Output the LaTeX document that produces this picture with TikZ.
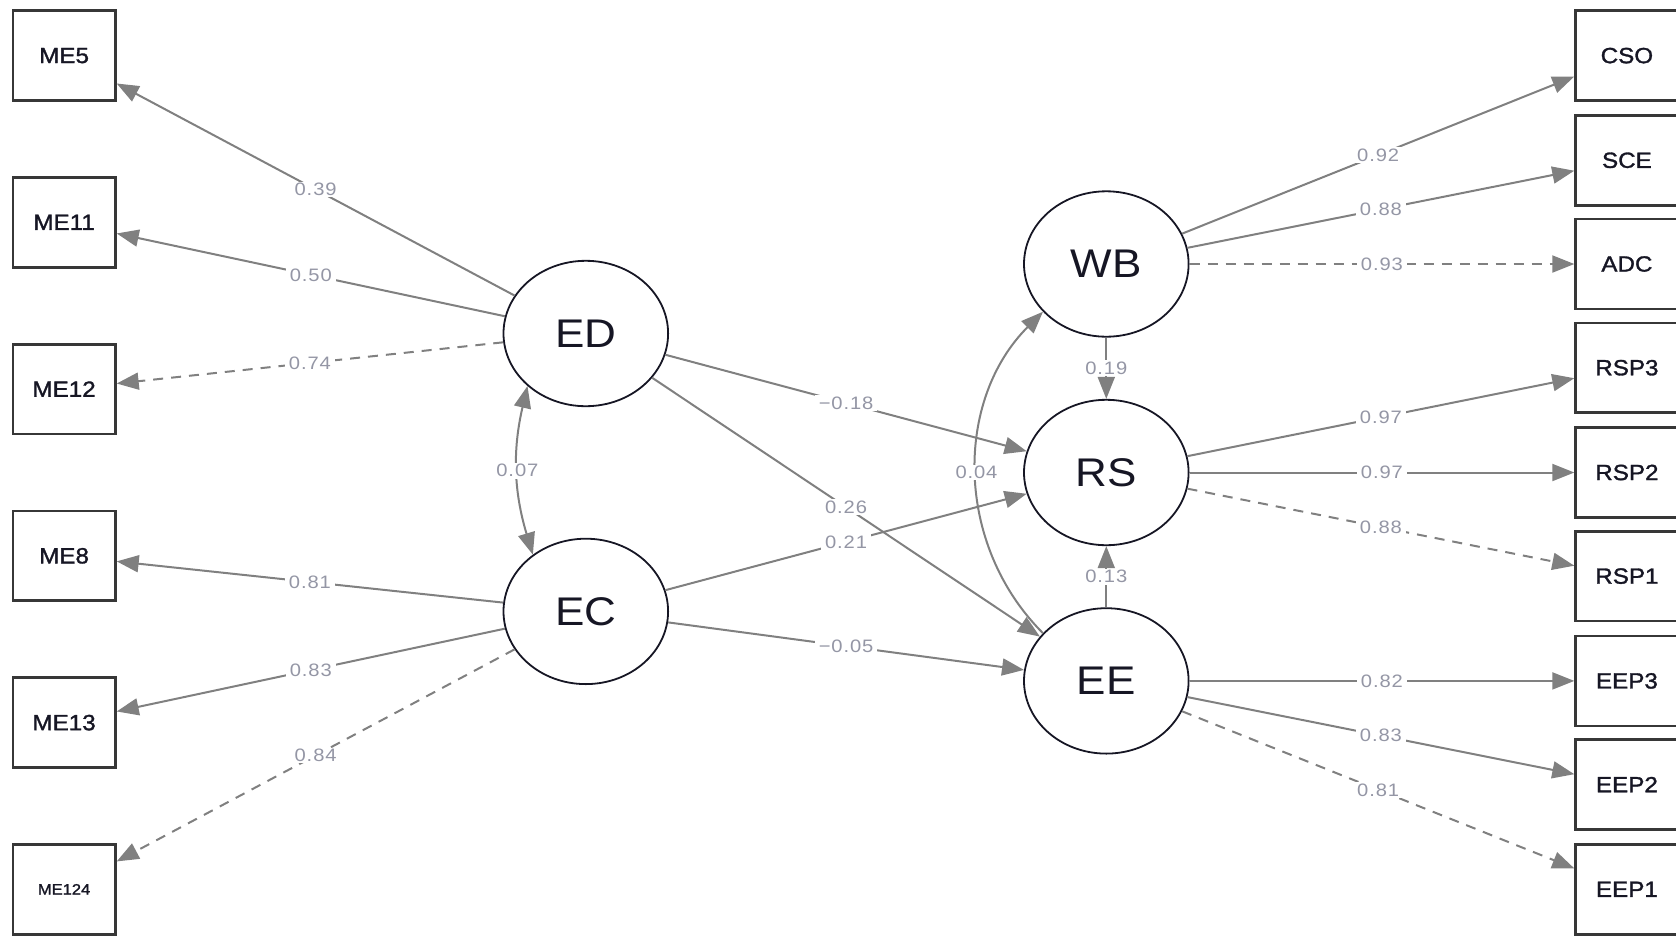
\documentclass[tikz,border=0pt]{standalone}
\usepackage{fontspec}
\setmainfont{Liberation Sans}[FakeStretch=1.1]
\newfontfamily\boxfont{Liberation Sans}[FakeStretch=1.1,FakeBold=1.4]
\newfontfamily\coeffont{Liberation Sans}[FakeStretch=1.12,LetterSpace=5]
\usetikzlibrary{arrows.meta,shapes.geometric}
\definecolor{edgegray}{RGB}{128,128,128}
\definecolor{labgray}{RGB}{148,150,165}
\definecolor{ink}{RGB}{22,22,36}
\definecolor{boxline}{RGB}{55,55,55}
\begin{document}
\begin{tikzpicture}[x=1pt,y=1pt,
  manifest/.style={draw=boxline, line width=2.6pt, rectangle, minimum width=102.6pt,
    minimum height=89.8pt, inner sep=0pt, text=ink, font=\boxfont\fontsize{22}{24}\selectfont},
  latent/.style={draw=ink, line width=1.8pt, ellipse, minimum width=164.6pt,
    minimum height=145.4pt, inner sep=0pt, text=ink, font=\fontsize{40}{44}\selectfont},
  link/.style={draw=edgegray, line width=2pt, -{Triangle[length=22pt,width=17pt]}},
  twoway/.style={draw=edgegray, line width=2pt,
    {Triangle[length=22pt,width=17pt]}-{Triangle[length=22pt,width=17pt]}},
  dashlink/.style={link, dash pattern=on 10pt off 8pt},
  coef/.style={fill=white, inner xsep=4pt, inner ysep=1.5pt, text=labgray,
    font=\coeffont\fontsize{18}{20}\selectfont}
]
\useasboundingbox (0,0) rectangle (1676,-935);

% indicators on the left
\node[manifest] (ME5)   at (64.1,-55.6)  {ME5};
\node[manifest] (ME11)  at (64.1,-222.3) {ME11};
\node[manifest] (ME12)  at (64.1,-389.1) {ME12};
\node[manifest] (ME8)   at (64.1,-555.8) {ME8};
\node[manifest] (ME13)  at (64.1,-722.6) {ME13};
\node[manifest, font=\boxfont\fontsize{15}{17}\selectfont] (ME124) at (64.1,-889.3) {ME124};

% indicators on the right
\node[manifest] (CSO)  at (1626.9,-55.6)  {CSO};
\node[manifest] (SCE)  at (1626.9,-160.3) {SCE};
\node[manifest] (ADC)  at (1626.9,-264.0) {ADC};
\node[manifest] (RSP3) at (1626.9,-367.7) {RSP3};
\node[manifest] (RSP2) at (1626.9,-472.5) {RSP2};
\node[manifest] (RSP1) at (1626.9,-576.1) {RSP1};
\node[manifest] (EEP3) at (1626.9,-680.9) {EEP3};
\node[manifest] (EEP2) at (1626.9,-784.6) {EEP2};
\node[manifest] (EEP1) at (1626.9,-889.3) {EEP1};

% latent variables
\node[latent] (ED) at (585.8,-333.5)  {ED};
\node[latent] (EC) at (585.8,-611.4)  {EC};
\node[latent] (WB) at (1106.3,-264.0) {WB};
\node[latent] (RS) at (1106.3,-472.5) {RS};
\node[latent] (EE) at (1106.3,-680.9) {EE};

% loadings, left
\draw[link]     (ED) -- node[coef]{0.39} (ME5);
\draw[link]     (ED) -- node[coef]{0.50} (ME11);
\draw[dashlink] (ED) -- node[coef]{0.74} (ME12);
\draw[link]     (EC) -- node[coef]{0.81} (ME8);
\draw[link]     (EC) -- node[coef]{0.83} (ME13);
\draw[dashlink] (EC) -- node[coef]{0.84} (ME124);

% loadings, right
\draw[link]     (WB) -- node[coef]{0.92} (CSO);
\draw[link]     (WB) -- node[coef]{0.88} (SCE);
\draw[dashlink] (WB) -- node[coef]{0.93} (ADC);
\draw[link]     (RS) -- node[coef]{0.97} (RSP3);
\draw[link]     (RS) -- node[coef]{0.97} (RSP2);
\draw[dashlink] (RS) -- node[coef]{0.88} (RSP1);
\draw[link]     (EE) -- node[coef]{0.82} (EEP3);
\draw[link]     (EE) -- node[coef]{0.83} (EEP2);
\draw[dashlink] (EE) -- node[coef]{0.81} (EEP1);

% structural paths
\draw[link] (ED) -- node[coef]{−0.18} (RS);
\draw[link] (ED) -- node[coef]{0.26} (EE);
\draw[link] (EC) -- node[coef]{0.21} (RS);
\draw[link] (EC) -- node[coef]{−0.05} (EE);
\draw[link] (WB) -- node[coef]{0.19} (RS);
\draw[link] (EE) -- node[coef]{0.13} (RS);

% curved paths
\draw[twoway] (ED.222) to[bend right=15] node[coef]{0.07} (EC.133);
\draw[link] (EE.143) to[bend left=45] node[coef]{0.04} (WB.217);
\end{tikzpicture}
\end{document}
